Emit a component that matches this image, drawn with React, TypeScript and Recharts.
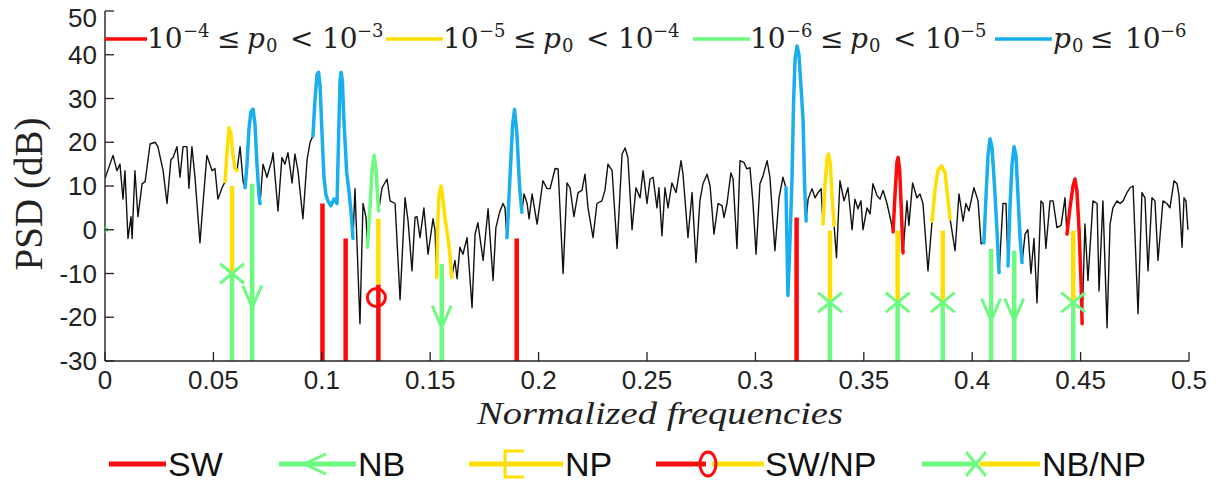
import React from 'react';
import { ComposedChart, Line, XAxis, YAxis } from 'recharts';

type Pt = [number, number];

const RED = '#ff0a0a';
const YELLOW = '#ffdf00';
const GREEN = '#6cfa80';
const BLUE = '#19aef0';
const AX = '#222222';
const SANS = "'Liberation Sans', Arial, Helvetica, sans-serif";
const SERIF = "'Liberation Serif', 'Times New Roman', serif";
const MATH = "'DejaVu Serif', serif";

const xTicks = [0, 0.05, 0.1, 0.15, 0.2, 0.25, 0.3, 0.35, 0.4, 0.45, 0.5];
const xTickLabels = ['0', '0.05', '0.1', '0.15', '0.2', '0.25', '0.3', '0.35', '0.4', '0.45', '0.5'];
const yTicks = [-30, -20, -10, 0, 10, 20, 30, 40, 50];
const yTickLabels = ['-30', '-20', '-10', '0', '10', '20', '30', '40', '50'];

// black PSD trace (normalized frequency, dB), outside of the coloured peaks
const psdBase: Pt[] = [
  [0.0, 11.7], [0.0037, 17], [0.0055, 13.5], [0.0069, 15], [0.0083, 7], [0.0092, 13.5], [0.0106, -2], [0.012, 3], [0.0125, -2], [0.0138, 13.5], [0.0152, 3], [0.0171, 10.5], [0.0185, 11], [0.0208, 19.6], [0.0231, 20], [0.0244, 19], [0.0268, 13.5], [0.0286, 6], [0.0304, 16], [0.0314, 16.5], [0.0332, 19], [0.0346, 12], [0.036, 19], [0.0378, 19], [0.0387, 9.5], [0.0401, 19], [0.0415, 12], [0.0438, -3], [0.0452, 6], [0.047, 17], [0.0494, 13.5], [0.0507, 14], [0.0521, 7], [0.054, 9.6],
  [0.0623, 19], [0.0637, 11],
  [0.0729, 15], [0.0747, 12], [0.077, 16], [0.0775, 17.6], [0.0798, 4.3], [0.0816, 16.5], [0.083, 15], [0.0844, 17.6], [0.0863, 10.7], [0.0876, 17.3], [0.089, 13.5], [0.0913, 2.5], [0.0932, 16], [0.0946, 20],
  [0.1153, 9.4], [0.1176, -21.5], [0.119, 6], [0.1204, 2.8],
  [0.1278, 9.6], [0.1301, 11.6], [0.1315, 6.6], [0.1338, 6], [0.1361, -16], [0.1384, 7.3], [0.1398, 2], [0.1416, -9.4], [0.143, 2.8], [0.1439, 3], [0.1453, -1.8], [0.1471, 5], [0.149, -5.6], [0.1513, 2.5], [0.1522, 0],
  [0.1614, -7], [0.1624, -11.2], [0.1637, -4], [0.1651, -5.6], [0.167, -1.8], [0.1693, -17.8], [0.1707, -1], [0.172, 1.6], [0.1744, -7], [0.1767, 4.8], [0.179, -11.6], [0.1803, 0.5], [0.1822, 4.3], [0.1836, 6], [0.1845, 5],
  [0.1933, 8.2], [0.1947, 6], [0.1956, 2.5], [0.197, 8.2], [0.1993, 1.3], [0.202, 11.2], [0.2039, 9.4], [0.2053, 9.4], [0.2076, 14], [0.209, 13.9], [0.2113, -10], [0.2131, 10.7], [0.2145, 9.6], [0.2163, 3], [0.2182, 8.5], [0.22, 9], [0.2214, 12.7], [0.2228, 5], [0.2251, -1.8], [0.2269, 6], [0.2292, 6.6], [0.2306, 9], [0.232, 15], [0.2339, 13.5], [0.2362, -4.3], [0.2385, 17.3], [0.2399, 18.7], [0.2412, 16.5], [0.2431, 0], [0.2449, 9.6], [0.2468, 7.3], [0.2482, 13.5], [0.25, 6], [0.2514, 11.6], [0.2528, 12], [0.2546, 5], [0.2555, 9.6], [0.2569, -1.4], [0.2583, 9.6], [0.2597, 5], [0.2615, 10.7], [0.2634, 8.5], [0.2657, 15.8], [0.2666, 12.7], [0.2689, -1.8], [0.2708, 8.5], [0.2726, -7.5], [0.2744, 6.6], [0.2758, 10.5], [0.2777, 12.7], [0.2791, 10], [0.2809, -1], [0.2828, 6], [0.2846, 5.5], [0.2855, 2.8], [0.2869, 6], [0.2887, 13], [0.2897, 11.6], [0.2915, -4.3], [0.2929, 15.8], [0.2947, 15.4], [0.2961, 13.9], [0.2975, 14.2], [0.2989, 6], [0.3003, -5.6], [0.3021, 10.5], [0.3035, 12.3], [0.3054, 15.8], [0.3067, 12], [0.309, -4.8], [0.3109, 7.3], [0.3127, 12],
  [0.3243, 7], [0.3261, 9.4], [0.3275, 7.3], [0.3289, 8.5], [0.3303, 9.4],
  [0.3374, -6.4], [0.339, 11.2], [0.3409, 6.6], [0.3427, 9.6], [0.3446, 0], [0.3459, 7], [0.3473, 4.8], [0.3487, 6.6], [0.3496, 0], [0.3515, 5], [0.3529, 3.6], [0.3542, 10.5], [0.3561, 7.8], [0.3575, 7], [0.3589, 9], [0.3607, 6], [0.3625, 2],
  [0.3699, 6.6], [0.3708, 1], [0.3725, 10.7], [0.3745, 7.3], [0.3759, 8.2], [0.3773, 6], [0.3796, -9.4],
  [0.3921, -4.8], [0.3939, 8.2], [0.3958, 2], [0.3971, 6], [0.3985, 4.3], [0.4008, 9.6], [0.4027, 6.6], [0.4041, -3.2],
  [0.4142, 6], [0.4156, 6],
  [0.4244, -1], [0.4257, 0], [0.4271, -10], [0.4285, -2], [0.4299, -16.7], [0.4317, 6.6], [0.4327, 6], [0.434, -4.3], [0.4359, 6.6], [0.4373, 6.6], [0.4391, 0.5], [0.441, 1], [0.4428, 7.3],
  [0.452, 1.3], [0.4534, -11.6], [0.4557, 6.6], [0.4576, 6], [0.4585, -14], [0.4603, 6.6], [0.4622, -22.4], [0.4636, 1.3], [0.4649, 5], [0.4668, 6.6], [0.4682, 6], [0.4696, 6.6], [0.4714, 8.5], [0.4728, 9.6], [0.4742, 10], [0.4765, -19.2], [0.4783, 8.5], [0.4797, 7.3], [0.4811, -9.4], [0.4829, 7.3], [0.4843, 6.6], [0.4857, -7], [0.488, 6.6], [0.4898, 6], [0.4912, 5], [0.4931, 11.2], [0.4945, 10.5], [0.4954, 7.8], [0.4968, -4], [0.4977, 7.3], [0.4986, 6.6], [0.4995, 0],
];

// coloured peaks (by p0 class)
const peakYellow1: Pt[] = [[0.0554, 11], [0.0563, 18], [0.0572, 23.3], [0.0581, 22], [0.059, 17], [0.06, 14], [0.0609, 13.5]];
const peakBlue1: Pt[] = [[0.0646, 9.6], [0.0655, 15], [0.0664, 23], [0.0673, 27], [0.0683, 27.6], [0.0692, 24], [0.0701, 15], [0.071, 8], [0.0715, 6]];
const peakBlue2: Pt[] = [[0.0959, 21.4], [0.0969, 30], [0.0978, 35.5], [0.0985, 36], [0.0992, 33], [0.1001, 22], [0.101, 12], [0.1019, 8], [0.1029, 6.5], [0.1042, 5.5], [0.1056, 7], [0.107, 6], [0.1077, 20], [0.1084, 34], [0.1089, 36], [0.1095, 34], [0.1102, 25], [0.1115, 13], [0.1125, 9], [0.1135, 4], [0.1144, -2]];
const peakGreen1: Pt[] = [[0.1211, -4], [0.1222, 5], [0.1231, 13], [0.1241, 17], [0.125, 14], [0.1257, 8], [0.1262, 4.3]];
const peakYellow2: Pt[] = [[0.153, -10.9], [0.1535, 2], [0.1541, 8], [0.155, 10], [0.1559, 7], [0.1568, 2.8], [0.1582, -2], [0.1591, -5.5], [0.1599, -10.9]];
const peakBlue3: Pt[] = [[0.1854, -1.8], [0.1868, 12], [0.188, 24], [0.1889, 27.5], [0.19, 22], [0.1912, 10], [0.1923, 4]];
const peakBlue4: Pt[] = [[0.3141, 9.6], [0.315, -15], [0.316, -2], [0.3169, 12], [0.3176, 29], [0.3183, 39], [0.3192, 42], [0.3201, 40], [0.321, 33], [0.322, 25], [0.3227, 10], [0.3234, 2]];
const peakYellow3: Pt[] = [[0.3312, 1.3], [0.3321, 10], [0.333, 16], [0.3337, 17.3], [0.3346, 15], [0.3353, 8], [0.3363, 1]];
const peakRed1: Pt[] = [[0.3635, -0.5], [0.3644, 8], [0.3653, 15.5], [0.3658, 16.5], [0.3665, 14], [0.3672, 6], [0.3681, -5.3]];
const peakYellow4: Pt[] = [[0.3815, 2], [0.3828, 9], [0.3842, 13.5], [0.3858, 14.6], [0.3875, 13], [0.3888, 7], [0.3898, 2.5]];
const peakBlue5: Pt[] = [[0.4054, -3], [0.4064, 8], [0.4073, 17], [0.4082, 20.8], [0.4091, 19], [0.4103, 10], [0.4114, 0], [0.4124, -9.8]];
const peakBlue6: Pt[] = [[0.4165, -8.3], [0.4174, 5], [0.4184, 15], [0.4193, 19], [0.4202, 17], [0.4211, 8], [0.4221, -2], [0.423, -7.5]];
const peakRed2: Pt[] = [[0.4437, -1], [0.4451, 5], [0.4465, 10], [0.4474, 11.6], [0.4483, 9], [0.4493, 0], [0.4502, -12], [0.4507, -21.5]];

const peakSeries: { color: string; pts: Pt[] }[] = [
  { color: YELLOW, pts: peakYellow1 },
  { color: BLUE, pts: peakBlue1 },
  { color: BLUE, pts: peakBlue2 },
  { color: GREEN, pts: peakGreen1 },
  { color: YELLOW, pts: peakYellow2 },
  { color: BLUE, pts: peakBlue3 },
  { color: BLUE, pts: peakBlue4 },
  { color: YELLOW, pts: peakYellow3 },
  { color: RED, pts: peakRed1 },
  { color: YELLOW, pts: peakYellow4 },
  { color: BLUE, pts: peakBlue5 },
  { color: BLUE, pts: peakBlue6 },
  { color: RED, pts: peakRed2 },
];

// detected interference events (vertical bars from the bottom)
type Ev = { f: number; kind: 'SW' | 'NB' | 'NB/NP' | 'SW/NP'; top: number; mark?: number; split?: number };
const events: Ev[] = [
  { f: 0.0586, kind: 'NB/NP', top: 10, mark: -10 },
  { f: 0.0679, kind: 'NB', top: 10.5, mark: -17.8 },
  { f: 0.1003, kind: 'SW', top: 6 },
  { f: 0.111, kind: 'SW', top: -2 },
  { f: 0.1261, kind: 'SW/NP', top: 2.5, split: -12.5, mark: -15.5 },
  { f: 0.1553, kind: 'NB', top: -7.8, mark: -22.4 },
  { f: 0.1899, kind: 'SW', top: -2 },
  { f: 0.319, kind: 'SW', top: 2.8 },
  { f: 0.3344, kind: 'NB/NP', top: -0.2, mark: -16.6 },
  { f: 0.3656, kind: 'NB/NP', top: -0.2, mark: -16.6 },
  { f: 0.3864, kind: 'NB/NP', top: -0.2, mark: -16.6 },
  { f: 0.4087, kind: 'NB', top: -4.4, mark: -20.8 },
  { f: 0.4194, kind: 'NB', top: -4.8, mark: -20.8 },
  { f: 0.4466, kind: 'NB/NP', top: -0.2, mark: -16.6 },
];
const originMark: Pt = [0, 0];

const Y_MIN = -30;
const Y_MAX = 50;

type Row = { f: number; y: number; m?: string };
const toRows = (pts: Pt[]): Row[] => pts.map(([f, y]) => ({ f, y }));

const blackRows: Row[] = toRows(
  [...psdBase, ...peakSeries.flatMap((p) => p.pts)].sort((a, b) => a[0] - b[0])
);

const segs: { color: string; rows: Row[] }[] = [];
events.forEach((e) => {
  if (e.kind === 'SW') segs.push({ color: RED, rows: [{ f: e.f, y: Y_MIN }, { f: e.f, y: e.top }] });
  if (e.kind === 'NB') segs.push({ color: GREEN, rows: [{ f: e.f, y: Y_MIN }, { f: e.f, y: e.top }] });
  if (e.kind === 'NB/NP') {
    segs.push({ color: GREEN, rows: [{ f: e.f, y: Y_MIN }, { f: e.f, y: e.mark as number }] });
    segs.push({ color: YELLOW, rows: [{ f: e.f, y: e.mark as number }, { f: e.f, y: e.top }] });
  }
  if (e.kind === 'SW/NP') {
    segs.push({ color: RED, rows: [{ f: e.f, y: Y_MIN }, { f: e.f, y: e.split as number }] });
    segs.push({ color: YELLOW, rows: [{ f: e.f, y: e.split as number }, { f: e.f, y: e.top }] });
  }
});
const markerRows: Row[] = [
  ...events.filter((e) => e.mark !== undefined).map((e) => ({ f: e.f, y: e.mark as number, m: e.kind })),
  { f: originMark[0], y: originMark[1], m: 'dot' },
];

const renderMarker = (p: any) => {
  const { cx, cy, payload, index } = p;
  const key = `mk${index}`;
  if (cx == null || cy == null) return <g key={key} />;
  const m = payload.m;
  if (m === 'NB/NP') {
    return (
      <g key={key} stroke={GREEN} strokeWidth={3} strokeLinecap="round">
        <line x1={cx - 11} y1={cy - 9} x2={cx + 11} y2={cy + 9} />
        <line x1={cx - 11} y1={cy + 9} x2={cx + 11} y2={cy - 9} />
      </g>
    );
  }
  if (m === 'NB') {
    return (
      <polyline key={key} points={`${cx - 9},${cy - 21} ${cx},${cy} ${cx + 9},${cy - 21}`} fill="none" stroke={GREEN} strokeWidth={3} strokeLinejoin="round" strokeLinecap="round" />
    );
  }
  if (m === 'SW/NP') {
    return <circle key={key} cx={cx - 2} cy={cy} r={9} fill="none" stroke={RED} strokeWidth={3} />;
  }
  return <circle key={key} cx={cx} cy={cy} r={2.5} fill="none" stroke={GREEN} strokeWidth={1.5} />;
};

const BottomTick = (p: any) => {
  const { x, y, index } = p;
  return (
    <g>
      <line x1={x} x2={x} y1={y} y2={y - 9} stroke={AX} strokeWidth={1.3} />
      <text x={x} y={y + 28} textAnchor="middle" fontSize={26} fontFamily={SANS} fill={AX}>
        {xTickLabels[index]}
      </text>
    </g>
  );
};
const TopTick = (p: any) => {
  const { x, y } = p;
  return <line x1={x} x2={x} y1={y} y2={y + 9} stroke={AX} strokeWidth={1.3} />;
};
const LeftTick = (p: any) => {
  const { x, y, index } = p;
  return (
    <g>
      <line x1={x} x2={x + 9} y1={y} y2={y} stroke={AX} strokeWidth={1.3} />
      <text x={x - 8} y={Math.max(y + 9, 27)} textAnchor="end" fontSize={26} fontFamily={SANS} fill={AX}>
        {yTickLabels[index]}
      </text>
    </g>
  );
};
const RightTick = (p: any) => {
  const { x, y } = p;
  return <line x1={x} x2={x - 9} y1={y} y2={y} stroke={AX} strokeWidth={1.3} />;
};

// top legend (p0 classes)
type Piece = [string, number, 'n' | 'sup' | 'sub' | 'it'];
const rangePieces = (lo: string, hi: string): Piece[] => [
  ['10', 0, 'n'], [lo, 36, 'sup'], ['\u2264', 70, 'n'], ['p', 100, 'it'], ['0', 119, 'sub'], ['<', 143, 'n'], ['10', 175, 'n'], [hi, 210, 'sup'],
];
const topLegend: { color: string; x1: number; x2: number; pieces: Piece[] }[] = [
  { color: RED, x1: 105, x2: 147, pieces: rangePieces('\u22124', '\u22123') },
  { color: YELLOW, x1: 386, x2: 443, pieces: rangePieces('\u22125', '\u22124') },
  { color: GREEN, x1: 693, x2: 750, pieces: rangePieces('\u22126', '\u22125') },
  { color: BLUE, x1: 995, x2: 1052, pieces: [['p', 1, 'it'], ['0', 20, 'sub'], ['\u2264', 38, 'n'], ['10', 73, 'n'], ['\u22126', 108, 'sup']] },
];

const MathText = ({ x0, pieces }: { x0: number; pieces: Piece[] }) => (
  <g fontFamily={MATH} fill="#222">
    {pieces.map(([t, dx, k], i) => (
      <text
        key={i}
        x={x0 + dx}
        y={k === 'sup' ? 37 : k === 'sub' ? 52 : 48}
        fontSize={k === 'sup' || k === 'sub' ? 18 : 28}
        fontStyle={k === 'it' ? 'italic' : 'normal'}
      >
        {t}
      </text>
    ))}
  </g>
);

const BL = 464;
const legendText = (x: number, t: string) => (
  <text x={x} y={476} fontFamily={SANS} fontSize={34} fill="#111">
    {t}
  </text>
);

export default function App() {
  return (
    <div style={{ position: 'absolute', left: 0, top: 0, width: 1227, height: 486, background: '#fff' }}>
      <ComposedChart width={1227} height={486} margin={{ top: 11, right: 38, bottom: 85, left: 45 }}>
        <XAxis
          xAxisId={0}
          dataKey="f"
          type="number"
          domain={[0, 0.5]}
          ticks={xTicks}
          interval={0}
          allowDataOverflow
          height={40}
          tickSize={0}
          tickMargin={0}
          tickLine={false}
          axisLine={{ stroke: AX, strokeWidth: 1.4 }}
          tick={BottomTick}
        />
        <XAxis
          xAxisId="top"
          orientation="top"
          dataKey="f"
          type="number"
          domain={[0, 0.5]}
          ticks={xTicks}
          interval={0}
          allowDataOverflow
          height={0}
          tickSize={0}
          tickMargin={0}
          tickLine={false}
          axisLine={{ stroke: AX, strokeWidth: 1.4 }}
          tick={TopTick}
        />
        <YAxis
          yAxisId={0}
          type="number"
          domain={[Y_MIN, Y_MAX]}
          ticks={yTicks}
          interval={0}
          allowDataOverflow
          width={60}
          tickSize={0}
          tickMargin={0}
          tickLine={false}
          axisLine={{ stroke: AX, strokeWidth: 1.4 }}
          tick={LeftTick}
        />
        <YAxis
          yAxisId="right"
          orientation="right"
          type="number"
          domain={[Y_MIN, Y_MAX]}
          ticks={yTicks}
          interval={0}
          allowDataOverflow
          width={0}
          tickSize={0}
          tickMargin={0}
          tickLine={false}
          axisLine={{ stroke: AX, strokeWidth: 1.4 }}
          tick={RightTick}
        />
        <Line
          data={blackRows}
          dataKey="y"
          type="linear"
          stroke="#111"
          strokeWidth={1.4}
          dot={false}
          activeDot={false}
          isAnimationActive={false}
          strokeLinejoin="round"
        />
        {peakSeries.map((p, i) => (
          <Line
            key={`pk${i}`}
            data={toRows(p.pts)}
            dataKey="y"
            type="linear"
            stroke={p.color}
            strokeWidth={3.5}
            dot={false}
            activeDot={false}
            isAnimationActive={false}
            strokeLinejoin="round"
            strokeLinecap="round"
          />
        ))}
        {segs.map((s, i) => (
          <Line
            key={`sg${i}`}
            data={s.rows}
            dataKey="y"
            type="linear"
            stroke={s.color}
            strokeWidth={4.5}
            dot={false}
            activeDot={false}
            isAnimationActive={false}
          />
        ))}
        <Line
          data={markerRows}
          dataKey="y"
          type="linear"
          stroke="none"
          strokeWidth={0}
          dot={renderMarker}
          activeDot={false}
          isAnimationActive={false}
        />
      </ComposedChart>
      <svg width={1227} height={486} style={{ position: 'absolute', left: 0, top: 0, pointerEvents: 'none' }}>
        <text transform="rotate(-90 42 194)" x={42} y={194} textAnchor="middle" fontFamily={SERIF} fontSize={39} fill="#222">
          PSD (dB)
        </text>
        <text x={660} y={424} textAnchor="middle" fontFamily={SERIF} fontStyle="italic" fontSize={32} fill="#222" textLength={366} lengthAdjust="spacingAndGlyphs">
          Normalized frequencies
        </text>
        {topLegend.map((it, i) => (
          <g key={`tl${i}`}>
            <line x1={it.x1} x2={it.x2} y1={39} y2={39} stroke={it.color} strokeWidth={3.5} />
            <MathText x0={it.x2} pieces={it.pieces} />
          </g>
        ))}
        {/* bottom legend */}
        <line x1={109} x2={166} y1={BL} y2={BL} stroke={RED} strokeWidth={5} />
        {legendText(168, 'SW')}
        <line x1={279} x2={356} y1={BL} y2={BL} stroke={GREEN} strokeWidth={5} />
        <polyline points={`326,${BL - 10} 304,${BL} 326,${BL + 10}`} fill="none" stroke={GREEN} strokeWidth={3} />
        {legendText(358, 'NB')}
        <line x1={469} x2={563} y1={BL} y2={BL} stroke={YELLOW} strokeWidth={5} />
        <path d={`M524,${BL - 13} H505 V${BL + 13} H524`} fill="none" stroke={YELLOW} strokeWidth={3} />
        {legendText(565, 'NP')}
        <line x1={656} x2={706} y1={BL} y2={BL} stroke={RED} strokeWidth={5} />
        <line x1={712} x2={764} y1={BL} y2={BL} stroke={YELLOW} strokeWidth={5} />
        <ellipse cx={708} cy={BL} rx={8} ry={12} fill="none" stroke={RED} strokeWidth={3} />
        {legendText(765, 'SW/NP')}
        <line x1={922} x2={974} y1={BL} y2={BL} stroke={GREEN} strokeWidth={5} />
        <line x1={980} x2={1040} y1={BL} y2={BL} stroke={YELLOW} strokeWidth={5} />
        <g stroke={GREEN} strokeWidth={3}>
          <line x1={966} y1={BL - 12} x2={986} y2={BL + 12} />
          <line x1={966} y1={BL + 12} x2={986} y2={BL - 12} />
        </g>
        {legendText(1042, 'NB/NP')}
      </svg>
    </div>
  );
}
